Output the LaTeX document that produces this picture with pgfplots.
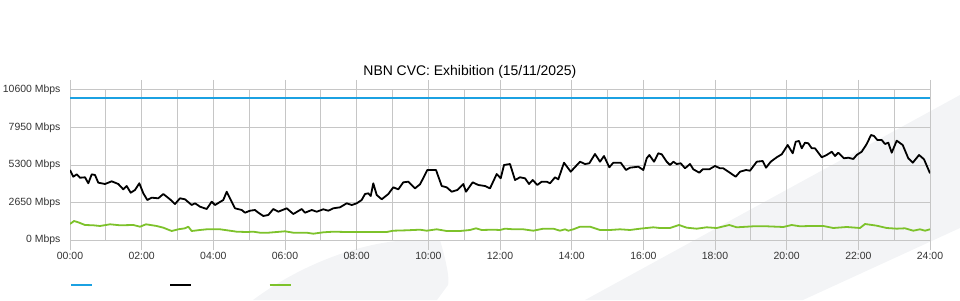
\documentclass[border=0pt]{standalone}
\usepackage{pgfplots}
\pgfplotsset{compat=1.18}
\usepackage{fontspec}
\setmainfont{Liberation Sans}
\definecolor{cblue}{HTML}{1BA1E2}
\definecolor{cgreen}{HTML}{7DC22B}
\definecolor{gridgray}{HTML}{C6C6C6}
\definecolor{bggray}{HTML}{F3F4F6}
\definecolor{labelgray}{HTML}{333333}
\begin{document}
\begin{tikzpicture}[x=1bp,y=1bp]
\path[use as bounding box] (0,0) rectangle (960,300);
% faint background decoration
\fill[bggray] (585,0) -- (960,205) -- (960,72) -- (803,0) -- cycle;
\fill[bggray] (253,0) .. controls (300,35) and (360,58) .. (410,60) -- (440,60) .. controls (446,40) and (450,20) .. (448,15) -- (437,0) -- cycle;
\begin{axis}[
  at={(70bp,60bp)}, anchor=south west,
  scale only axis, width=860bp, height=150bp,
  xmin=0, xmax=24, ymin=0, ymax=10600,
  scaled y ticks=false,
  xtick={0,2,...,24},
  xticklabels={00:00,02:00,04:00,06:00,08:00,10:00,12:00,14:00,16:00,18:00,20:00,22:00,24:00},
  minor xtick={1,3,...,23},
  ytick={0,2650,5300,7950,10600},
  yticklabels={0 Mbps,2650 Mbps,5300 Mbps,7950 Mbps,10600 Mbps},
  xmajorgrids, xminorgrids, ymajorgrids,
  grid style={draw=gridgray, line width=1bp},
  minor grid style={draw=gridgray, line width=1bp},
  axis line style={draw=gridgray, line width=1bp},
  tick align=outside,
  major tick length=10bp, minor tick length=0bp,
  xtick style={draw=gridgray, line width=1bp},
  ytick style={draw=none},
  tick label style={font=\fontsize{10.5}{12}\selectfont, text=labelgray},
  yticklabel style={xshift=4bp},
  xticklabel style={inner sep=2bp},
  title={NBN CVC: Exhibition (15/11/2025)},
  title style={at={(0.465,1)}, anchor=base, yshift=9bp, font=\fontsize{14}{16}\selectfont, text=black},
  legend style={at={(0,-0.3)}, anchor=west, draw=none, fill=none, inner sep=0pt, outer sep=0pt,
    nodes={inner sep=0pt}, column sep=0pt,
    /tikz/every even column/.append style={column sep=75.5bp}},
  legend columns=3,
  legend image code/.code={\draw[#1] (0bp,0bp) -- (21bp,0bp);},
]
\addplot[cblue, line width=2bp] coordinates {(0,10000) (24,10000)};
\addlegendentry{}
\addplot[black, line width=1.8bp, line join=round] coordinates {
(0,4947) (0.092,4473) (0.187,4640) (0.279,4400) (0.419,4430) (0.511,4006) (0.606,4640) (0.698,4593) (0.790,4050) (0.977,3957) (1.164,4147) (1.348,3957) (1.487,3580) (1.582,3816) (1.694,3343) (1.814,3533) (1.934,4006) (2.046,3300) (2.157,2827) (2.280,2990) (2.464,2947) (2.604,3250) (2.791,2876) (2.930,2544) (3.070,2947) (3.209,2876) (3.396,2473) (3.488,2593) (3.628,2355) (3.815,2190) (3.954,2707) (4.047,2473) (4.278,2827) (4.373,3413) (4.465,2947) (4.605,2240) (4.792,2120) (4.884,1930) (5.023,2070) (5.163,2120) (5.255,1930) (5.394,1696) (5.534,1767) (5.674,2190) (5.813,2000) (6.048,2240) (6.232,1837) (6.466,2190) (6.558,1930) (6.745,2120) (6.885,2000) (7.069,2170) (7.208,2070) (7.348,2240) (7.535,2310) (7.722,2593) (7.861,2473) (8.001,2593) (8.140,2827) (8.233,3250) (8.325,3300) (8.392,3110) (8.464,4006) (8.559,3180) (8.699,2876) (8.883,3250) (9.022,3723) (9.162,3580) (9.301,4077) (9.441,4120) (9.628,3650) (9.767,3936) (9.879,4473) (9.971,4947) (10.214,4947) (10.373,3816) (10.512,3723) (10.652,3413) (10.808,3533) (10.976,3957) (11.051,3413) (11.238,4077) (11.394,3887) (11.581,3816) (11.721,3650) (11.908,4664) (12.020,4360) (12.112,5300) (12.279,5370) (12.419,4240) (12.558,4430) (12.698,4360) (12.810,3957) (12.913,4240) (13.041,3887) (13.164,4120) (13.303,4120) (13.395,4006) (13.535,4430) (13.627,4290) (13.786,5463) (13.973,4827) (14.233,5533) (14.372,5370) (14.492,5420) (14.651,6077) (14.791,5533) (14.902,5936) (15.050,5137) (15.162,5463) (15.368,5463) (15.516,4947) (15.628,5110) (15.860,5180) (16.000,4947) (16.094,5774) (16.167,6007) (16.298,5533) (16.418,6127) (16.513,6056) (16.652,5533) (16.744,5300) (16.837,5533) (16.931,5370) (17.043,5420) (17.163,5067) (17.302,5370) (17.395,4996) (17.562,4756) (17.657,4996) (17.841,4996) (18.000,5230) (18.140,5067) (18.232,5067) (18.372,4827) (18.578,4473) (18.698,4827) (18.865,4947) (18.977,4897) (19.164,5533) (19.331,5583) (19.424,5110) (19.555,5533) (19.722,5844) (19.862,6056) (20.029,6713) (20.169,6127) (20.252,6947) (20.344,6996) (20.420,6480) (20.512,6876) (20.604,6833) (20.699,6480) (20.791,6480) (20.978,5844) (21.118,6007) (21.257,6240) (21.349,5936) (21.441,6170) (21.600,5774) (21.720,5816) (21.860,5724) (21.955,6007) (22.094,6240) (22.234,6784) (22.354,7420) (22.437,7350) (22.530,7067) (22.652,7067) (22.744,6784) (22.836,6876) (22.931,6170) (23.071,7020) (23.238,6713) (23.394,5774) (23.519,5463) (23.694,6007) (23.833,5703) (24,4713)
};
\addlegendentry{}
\addplot[cgreen, line width=1.8bp, line join=round] coordinates {
(0,1131) (0.112,1343) (0.232,1250) (0.419,1060) (0.650,1040) (0.837,990) (1.116,1110) (1.395,1040) (1.767,1060) (1.953,940) (2.121,1110) (2.420,990) (2.604,870) (2.838,636) (3.022,756) (3.209,827) (3.301,940) (3.396,636) (3.628,707) (3.815,756) (4.186,756) (4.465,657) (4.652,587) (4.931,565) (5.115,587) (5.302,516) (5.534,516) (5.768,565) (6.000,615) (6.232,516) (6.606,516) (6.790,445) (7.069,544) (7.348,587) (7.722,565) (8.093,565) (8.464,565) (8.838,565) (9.022,657) (9.396,685) (9.767,728) (9.954,657) (10.234,756) (10.512,636) (10.884,636) (11.163,707) (11.330,827) (11.489,707) (11.813,728) (12.000,707) (12.140,800) (12.372,756) (12.651,756) (12.930,657) (13.209,800) (13.488,800) (13.674,657) (13.814,756) (13.906,657) (14.046,756) (14.233,940) (14.512,940) (14.791,707) (15.070,707) (15.349,756) (15.628,707) (15.907,800) (16.278,897) (16.465,848) (16.744,848) (16.995,1060) (17.210,870) (17.489,800) (17.768,897) (18.047,848) (18.399,1060) (18.606,897) (19.069,968) (19.443,968) (19.906,919) (20.140,1060) (20.372,968) (20.651,990) (21.023,990) (21.302,848) (21.676,919) (22.047,848) (22.186,1131) (22.513,1011) (22.792,848) (23.071,800) (23.302,827) (23.533,657) (23.721,756) (23.861,657) (24,756)
};
\addlegendentry{}
\end{axis}
\end{tikzpicture}
\end{document}
